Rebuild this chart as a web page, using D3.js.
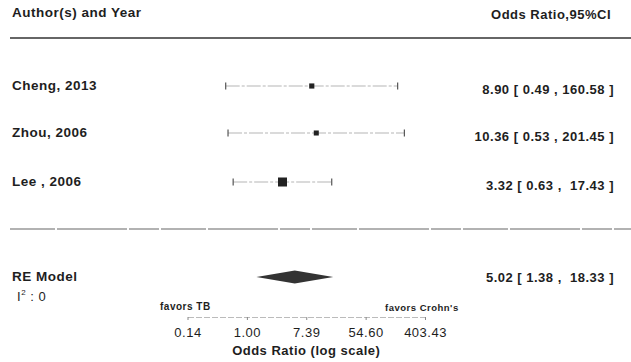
<!DOCTYPE html>
<html>
<head>
<meta charset="utf-8">
<script src="https://cdn.jsdelivr.net/npm/d3@7"></script>
<style>
  body { margin: 0; background: #fff; }
  svg text { font-family: "Liberation Sans", Arial, sans-serif; fill: #1e1e1e; white-space: pre; letter-spacing: 0.5px; }
</style>
</head>
<body>
<script>
const width = 631;
const height = 362;

// study data
const studies = ['Cheng, 2013', 'Zhou, 2006', 'Lee , 2006'];
const oddsRatio = [8.90, 10.36, 3.32];
const ciLower = [0.49, 0.53, 0.63];
const ciUpper = [160.58, 201.45, 17.43];

// pooled estimate
const reLabel = 'RE Model';
const reEstimate = 5.02;
const reLower = 1.38;
const reUpper = 18.33;

const axisTicks = [-2, 0, 2, 4, 6].map(d => Math.exp(d));

const svg = d3.select('body').append('svg')
  .attr('width', width)
  .attr('height', height);

const x = d3.scaleLog().base(Math.E)
  .domain([Math.exp(-2), Math.exp(6)])
  .range([187.5, 425]);

const rowY = [86, 133, 182];

// inverse variance weights for marker size
const weights = studies.map((s, i) => {
  const se = (Math.log(ciUpper[i]) - Math.log(ciLower[i])) / 3.92;
  return 1 / (se * se);
});
const boxSize = d3.scaleSqrt().domain([0, d3.max(weights)]).range([0, 9]);

const pad = (v, n) => v.toFixed(2).padStart(n, ' ');
const ciText = (e, l, u) => `${e.toFixed(2)} [ ${l.toFixed(2)} , ${pad(u, 6)} ]`;

// header
svg.append('text')
  .attr('x', 12).attr('y', 17)
  .attr('font-size', 13.5).attr('font-weight', 'bold')
  .text('Author(s) and Year');

svg.append('text')
  .attr('x', 611).attr('y', 19)
  .attr('text-anchor', 'end')
  .attr('font-size', 13).attr('font-weight', 'bold')
  .text('Odds Ratio,95%CI');

svg.append('line')
  .attr('x1', 10).attr('x2', width)
  .attr('y1', 38).attr('y2', 38)
  .attr('stroke', '#333').attr('stroke-width', 1.3);

svg.append('line')
  .attr('x1', 10).attr('x2', width)
  .attr('y1', 229).attr('y2', 229)
  .attr('stroke', '#666').attr('stroke-width', 1.2)
  .attr('stroke-dasharray', '45 2 70 2 30 2');

// rows
const rows = svg.append('g').selectAll('g')
  .data(studies)
  .join('g');

rows.append('text')
  .attr('x', 12).attr('y', (d, i) => rowY[i] + 4)
  .attr('font-size', 13.5).attr('font-weight', 'bold')
  .text(d => d);

rows.append('line')
  .attr('x1', (d, i) => x(ciLower[i]))
  .attr('x2', (d, i) => x(ciUpper[i]))
  .attr('y1', (d, i) => rowY[i]).attr('y2', (d, i) => rowY[i])
  .attr('stroke', '#b5b5b5').attr('stroke-width', 1)
  .attr('stroke-dasharray', '14 2 3 2');

rows.selectAll('line.cap')
  .data((d, i) => [ciLower[i], ciUpper[i]].map(v => ({ v, y: rowY[i] })))
  .join('line')
  .attr('class', 'cap')
  .attr('x1', d => x(d.v)).attr('x2', d => x(d.v))
  .attr('y1', d => d.y - 3.5).attr('y2', d => d.y + 3.5)
  .attr('stroke', '#555').attr('stroke-width', 1.2);

rows.append('rect')
  .attr('x', (d, i) => x(oddsRatio[i]) - boxSize(weights[i]) / 2)
  .attr('y', (d, i) => rowY[i] - boxSize(weights[i]) / 2)
  .attr('width', (d, i) => boxSize(weights[i]))
  .attr('height', (d, i) => boxSize(weights[i]))
  .attr('fill', '#222');

rows.append('text')
  .attr('x', 614).attr('y', (d, i) => rowY[i] + 8)
  .attr('text-anchor', 'end')
  .attr('font-size', 13).attr('font-weight', 'bold')
  .text((d, i) => ciText(oddsRatio[i], ciLower[i], ciUpper[i]));

// pooled
const reY = 277;
svg.append('text')
  .attr('x', 12).attr('y', reY + 4)
  .attr('font-size', 13.5).attr('font-weight', 'bold')
  .text(reLabel);

svg.append('path')
  .attr('d', d3.line()([
    [x(reLower), reY],
    [x(reEstimate), reY - 6.5],
    [x(reUpper), reY],
    [x(reEstimate), reY + 6.5]
  ]) + 'Z')
  .attr('fill', '#333');

svg.append('text')
  .attr('x', 614).attr('y', reY + 5)
  .attr('text-anchor', 'end')
  .attr('font-size', 13).attr('font-weight', 'bold')
  .text(ciText(reEstimate, reLower, reUpper));

const i2 = svg.append('text')
  .attr('x', 17).attr('y', 301)
  .attr('font-size', 13)
  .attr('fill', '#1e1e1e');
i2.append('tspan').attr('fill', '#1e1e1e').text('I');
i2.append('tspan').attr('fill', '#1e1e1e').attr('dy', -6).attr('font-size', 8).text('2');
i2.append('tspan').attr('fill', '#1e1e1e').attr('dy', 6).text(' : 0');

// axis
const axisY = 317;
const axis = svg.append('g')
  .attr('transform', `translate(0,${axisY})`)
  .call(d3.axisBottom(x)
    .tickValues(axisTicks)
    .tickFormat(d => d.toFixed(2))
    .tickSize(3)
    .tickSizeOuter(0));

axis.select('.domain')
  .attr('stroke', '#bbb')
  .attr('stroke-dasharray', '6 2');
axis.selectAll('.tick line').attr('stroke', '#888');
axis.selectAll('.tick text')
  .attr('font-family', '"Liberation Sans", Arial, sans-serif')
  .attr('font-size', 13)
  .attr('fill', '#1e1e1e')
  .attr('dy', '1.05em');

svg.append('text')
  .attr('x', 160).attr('y', 310)
  .attr('font-size', 10).attr('font-weight', 'bold')
  .text('favors TB');

svg.append('text')
  .attr('x', 385).attr('y', 311)
  .attr('font-size', 9.5).attr('font-weight', 'bold')
  .attr('letter-spacing', 0.2)
  .text("favors Crohn's");

svg.append('text')
  .attr('x', x(Math.exp(2))).attr('y', 355)
  .attr('text-anchor', 'middle')
  .attr('font-size', 13).attr('font-weight', 'bold')
  .text('Odds Ratio (log scale)');
</script>
</body>
</html>
